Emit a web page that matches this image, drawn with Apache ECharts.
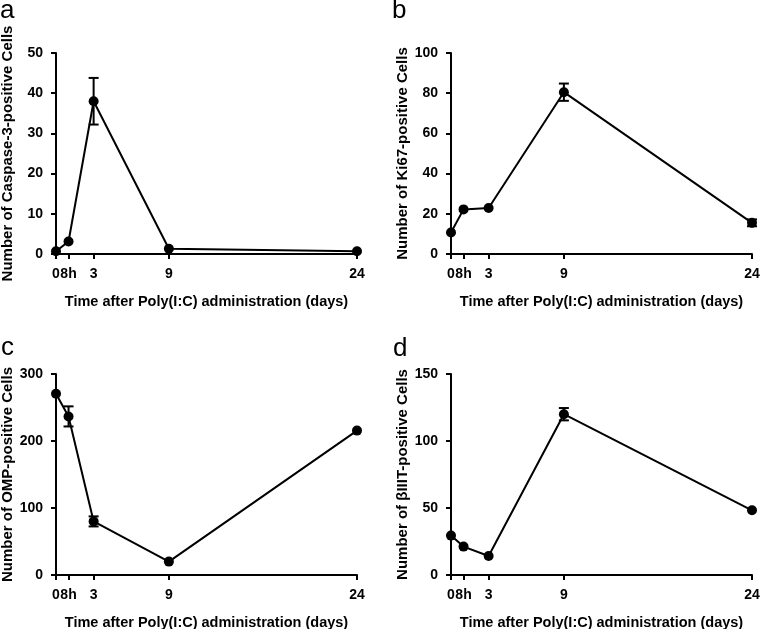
<!DOCTYPE html>
<html>
<head>
<meta charset="utf-8">
<script src="https://cdn.jsdelivr.net/npm/echarts@6/dist/echarts.min.js"></script>
<style>
  html, body { margin: 0; padding: 0; background: #fff; }
  #chart { width: 761px; height: 629px; }
</style>
</head>
<body>
<div id="chart"></div>
<script>
// time points (the 8h point sits at the 1-day position on the axis)
var timeDays = [0, 1, 3, 9, 24];
var timeLabels = ['0', '8h', '3', '9', '24'];

var caspaseMean = [0.7, 3.1, 38.0, 1.3, 0.7];
var caspaseErr = [0, 0, 5.8, 0, 0];
var ki67Mean = [10.7, 22.2, 22.9, 80.5, 15.5];
var ki67Err = [0, 0, 0, 4.3, 1.7];
var ompMean = [270.5, 236.7, 80, 20, 215.5];
var ompErr = [0, 15, 7.5, 0, 0];
var tubMean = [29.4, 21.2, 14.2, 120, 48.3];
var tubErr = [0, 0, 0, 4.6, 0];

var panelLetters = ['a', 'b', 'c', 'd'];
var yNames = [
  'Number of Caspase-3-positive Cells',
  'Number of Ki67-positive Cells',
  'Number of OMP-positive Cells',
  'Number of \u03b2IIIT-positive Cells'
];
var yMax = [50, 100, 300, 150];
var yStep = [10, 20, 100, 50];

var panels = [
  { mean: caspaseMean, err: caspaseErr },
  { mean: ki67Mean, err: ki67Err },
  { mean: ompMean, err: ompErr },
  { mean: tubMean, err: tubErr }
];

var font = 'Liberation Sans, Arial, sans-serif';
var gridPos = [
  { left: 56, top: 53 },
  { left: 451, top: 53 },
  { left: 56, top: 374 },
  { left: 451, top: 374 }
];
var letterPos = [
  { left: 0, top: -2 },
  { left: 392, top: -2 },
  { left: 1, top: 335 },
  { left: 393, top: 336 }
];

var chart = echarts.init(document.getElementById('chart'), null, { renderer: 'canvas' });

var grids = [], xAxes = [], yAxes = [], series = [], titles = [];

panels.forEach(function (p, i) {
  grids.push({
    left: gridPos[i].left, top: gridPos[i].top, width: 301, height: 201,
    containLabel: false, outerBoundsMode: 'none'
  });
  titles.push({
    text: panelLetters[i],
    left: letterPos[i].left,
    top: letterPos[i].top,
    padding: 0,
    textStyle: { fontFamily: font, fontSize: 26, fontWeight: 'normal', color: '#000' }
  });
  xAxes.push({
    type: 'value',
    gridIndex: i,
    min: 0,
    max: 24,
    name: 'Time after Poly(I:C) administration (days)',
    nameLocation: 'middle',
    nameGap: 40,
    nameTextStyle: { fontFamily: font, fontSize: 14.5, fontWeight: 'bold', color: '#000' },
    splitLine: { show: false },
    axisLine: { onZero: false, lineStyle: { color: '#000', width: 2 } },
    axisTick: { customValues: timeDays, length: 5, lineStyle: { color: '#000', width: 2 } },
    axisLabel: {
      customValues: timeDays,
      hideOverlap: false,
      margin: 13,
      fontFamily: font, fontSize: 14, fontWeight: 'bold', color: '#000',
      formatter: function (v) {
        var k = timeDays.indexOf(v);
        return k >= 0 ? timeLabels[k] : '';
      }
    }
  });
  yAxes.push({
    type: 'value',
    gridIndex: i,
    min: 0,
    max: yMax[i],
    interval: yStep[i],
    name: yNames[i],
    nameLocation: 'middle',
    nameRotate: 90,
    nameGap: 41,
    nameTextStyle: { fontFamily: font, fontSize: 15, fontWeight: 'bold', color: '#000' },
    splitLine: { show: false },
    axisLine: { show: true, lineStyle: { color: '#000', width: 2 } },
    axisTick: { show: true, length: 5, lineStyle: { color: '#000', width: 2 } },
    axisLabel: { margin: 13, fontFamily: font, fontSize: 14, fontWeight: 'bold', color: '#000' }
  });
  series.push({
    type: 'line',
    xAxisIndex: i,
    yAxisIndex: i,
    data: timeDays.map(function (t, k) { return [t, p.mean[k]]; }),
    symbol: 'circle',
    symbolSize: 10,
    lineStyle: { color: '#000', width: 2 },
    itemStyle: { color: '#000' },
    z: 3
  });
  series.push({
    type: 'custom',
    xAxisIndex: i,
    yAxisIndex: i,
    data: timeDays.map(function (t, k) {
      return [t, p.mean[k] - p.err[k], p.mean[k] + p.err[k], p.err[k]];
    }),
    renderItem: function (params, api) {
      if (api.value(3) <= 0) return null;
      var lo = api.coord([api.value(0), api.value(1)]);
      var hi = api.coord([api.value(0), api.value(2)]);
      var w = 5;
      var st = { stroke: '#000', lineWidth: 2 };
      return {
        type: 'group',
        children: [
          { type: 'line', shape: { x1: lo[0], y1: lo[1], x2: hi[0], y2: hi[1] }, style: st },
          { type: 'line', shape: { x1: hi[0] - w, y1: hi[1], x2: hi[0] + w, y2: hi[1] }, style: st },
          { type: 'line', shape: { x1: lo[0] - w, y1: lo[1], x2: lo[0] + w, y2: lo[1] }, style: st }
        ]
      };
    },
    z: 4
  });
});

chart.setOption({
  backgroundColor: '#fff',
  animation: false,
  title: titles,
  grid: grids,
  xAxis: xAxes,
  yAxis: yAxes,
  series: series
});
</script>
</body>
</html>
